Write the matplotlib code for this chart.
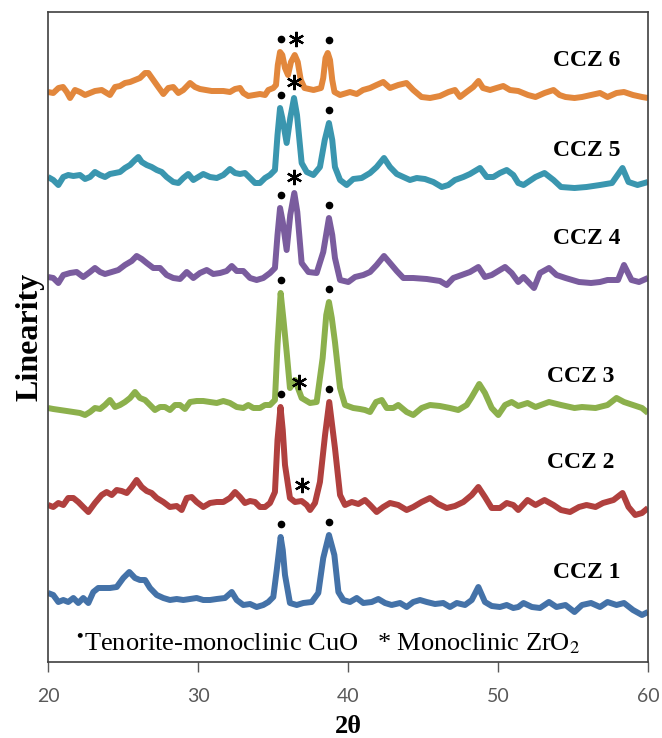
import numpy as np
import matplotlib
matplotlib.use("Agg")
import matplotlib.pyplot as plt

plt.rcParams['mathtext.fontset'] = 'stix'

# XRD patterns (2-theta in degrees, stacked intensity in arbitrary units)
tt_ccz6 = [20.0, 20.35, 20.7, 21.0, 21.25, 21.47, 21.8, 22.13, 22.47, 22.8, 23.13, 23.58, 23.91, 24.13,
           24.47, 24.8, 25.13, 25.47, 25.8, 26.13, 26.47, 26.69, 27.02, 27.35, 27.69, 28.02, 28.35, 28.69,
           29.02, 29.47, 29.8, 30.13, 30.91, 31.69, 32.13, 32.47, 32.8, 33.02, 33.35, 34.13, 34.47, 34.69,
           35.02, 35.2, 35.32, 35.47, 35.62, 35.8, 36.0, 36.2, 36.45, 36.65, 36.85, 37.1, 37.7, 38.2,
           38.35, 38.5, 38.65, 38.8, 38.95, 39.1, 39.47, 40.13, 40.58, 41.0, 41.47, 41.9, 42.35, 42.8,
           43.35, 43.9, 44.35, 44.9, 45.47, 46.13, 46.7, 47.13, 47.47, 47.9, 48.35, 48.7, 49.0, 49.47,
           49.9, 50.35, 50.8, 51.35, 52.0, 52.5, 53.1, 53.7, 54.1, 54.5, 55.1, 55.6, 56.2, 56.8, 57.3,
           57.9, 58.4, 59.0, 59.6, 60.0]
i_ccz6 = [570, 569, 574, 575, 570, 564, 572, 570, 567, 569, 571, 572, 569, 567,
          575, 576, 579, 580, 582, 584, 589, 589, 582, 575, 568, 574, 575, 569,
          572, 579, 575, 573, 571, 571, 570, 573, 574, 569, 566, 568, 567, 572,
          574, 577, 597, 610, 607, 594, 587, 600, 607, 600, 582, 574, 572, 574,
          584, 604, 609, 602, 582, 570, 567, 570, 568, 572, 574, 577, 580, 574,
          577, 579, 572, 565, 564, 566, 570, 572, 565, 570, 575, 581, 574, 572,
          574, 576, 572, 571, 567, 565, 569, 572, 567, 565, 564, 565, 567, 569, 565,
          569, 570, 567, 565, 564]

tt_ccz5 = [20.0, 20.35, 20.69, 21.02, 21.35, 21.69, 22.13, 22.47, 22.8, 23.13, 23.47, 23.8, 24.13, 24.47,
           24.8, 25.13, 25.47, 25.8, 26.02, 26.25, 26.58, 26.91, 27.25, 27.58, 27.91, 28.35, 28.69, 29.02,
           29.35, 29.69, 30.02, 30.35, 30.8, 31.25, 31.69, 32.13, 32.47, 32.8, 33.13, 33.47, 33.8, 34.13,
           34.47, 34.8, 35.13, 35.3, 35.47, 35.62, 35.91, 36.15, 36.4, 36.6, 36.91, 37.25, 37.69, 38.13,
           38.45, 38.73, 38.95, 39.13, 39.47, 39.91, 40.35, 40.91, 41.47, 41.91, 42.4, 42.8, 43.25, 43.69,
           44.13, 44.58, 45.13, 45.69, 46.25, 46.69, 47.13, 47.69, 48.13, 48.8, 49.25, 49.69, 50.13, 50.58,
           51.02, 51.35, 51.7, 52.5, 53.1, 53.7, 54.2, 55.1, 55.9, 56.8, 57.6, 58.3, 58.7, 59.3, 60.0]
i_ccz5 = [485, 482, 477, 485, 487, 486, 487, 483, 485, 490, 487, 485, 488, 489,
          490, 494, 497, 502, 505, 500, 497, 495, 492, 490, 485, 480, 479, 484,
          488, 482, 485, 488, 485, 484, 487, 493, 489, 488, 489, 484, 479, 479,
          484, 487, 492, 527, 554, 544, 519, 544, 564, 547, 499, 490, 487, 495,
          522, 539, 522, 495, 482, 477, 483, 484, 489, 495, 504, 495, 488, 485,
          482, 484, 483, 480, 475, 477, 482, 485, 488, 494, 485, 485, 489, 492,
          487, 479, 477, 485, 489, 482, 475, 474, 475, 477, 479, 494, 480, 477, 480]

tt_ccz4 = [20.0, 20.35, 20.69, 21.02, 21.47, 21.91, 22.35, 22.8, 23.13, 23.47, 23.8, 24.25, 24.69, 25.13,
           25.58, 25.91, 26.25, 26.58, 27.02, 27.47, 27.91, 28.35, 28.8, 29.25, 29.69, 30.13, 30.58, 31.02,
           31.47, 31.91, 32.25, 32.58, 33.02, 33.47, 33.91, 34.35, 34.8, 35.13, 35.3, 35.47, 35.65, 35.91,
           36.15, 36.42, 36.62, 36.91, 37.36, 37.91, 38.35, 38.73, 38.95, 39.13, 39.47, 40.02, 40.47, 41.02,
           41.47, 41.91, 42.4, 42.8, 43.25, 43.69, 44.35, 45.25, 46.13, 46.58, 47.02, 47.58, 48.13, 48.69,
           49.13, 49.58, 50.13, 50.47, 50.91, 51.35, 51.7, 52.4, 52.8, 53.4, 53.9, 54.5, 55.4, 56.2, 56.8,
           57.3, 58.0, 58.4, 58.9, 59.4, 60.0]
i_ccz4 = [385, 384, 379, 387, 389, 390, 385, 390, 394, 390, 388, 390, 392, 397,
          401, 406, 403, 399, 394, 394, 387, 384, 383, 390, 384, 389, 392, 388,
          389, 391, 396, 391, 391, 384, 382, 384, 389, 394, 427, 454, 440, 412,
          447, 469, 450, 399, 390, 389, 410, 444, 427, 404, 382, 380, 385, 387,
          390, 397, 406, 399, 391, 384, 384, 383, 381, 377, 384, 387, 390, 395,
          385, 387, 392, 395, 389, 380, 385, 374, 389, 394, 387, 384, 380, 379, 380,
          382, 382, 397, 382, 380, 384]

tt_ccz3 = [20.0, 20.35, 20.8, 21.25, 21.69, 22.13, 22.47, 22.8, 23.13, 23.47, 23.8, 24.13, 24.47, 24.8,
           25.13, 25.47, 25.8, 26.13, 26.47, 26.8, 27.13, 27.47, 27.8, 28.13, 28.47, 28.8, 29.13, 29.47,
           29.91, 30.35, 30.8, 31.25, 31.69, 32.13, 32.58, 33.02, 33.35, 33.69, 34.13, 34.47, 34.8, 35.13,
           35.3, 35.51, 35.7, 35.91, 36.13, 36.47, 36.91, 37.47, 37.91, 38.31, 38.55, 38.73, 38.92, 39.13,
           39.47, 39.8, 40.35, 40.8, 41.13, 41.47, 41.87, 42.25, 42.58, 43.02, 43.35, 43.91, 44.35, 44.91,
           45.47, 46.13, 46.8, 47.35, 47.91, 48.25, 48.75, 49.13, 49.58, 50.02, 50.47, 50.91, 51.35, 51.97,
           52.5, 53.4, 54.2, 55.1, 55.6, 56.5, 57.3, 57.9, 58.4, 59.0, 59.6, 60.0]
i_ccz3 = [254, 253, 252, 251, 250, 249, 247, 250, 254, 253, 257, 262, 255, 257,
          260, 264, 270, 264, 262, 257, 252, 255, 255, 252, 257, 257, 253, 260,
          261, 261, 260, 259, 261, 259, 255, 254, 257, 254, 254, 257, 257, 262,
          317, 369, 342, 310, 274, 282, 264, 259, 260, 304, 347, 360, 344, 320,
          274, 257, 254, 253, 252, 250, 260, 262, 254, 254, 257, 250, 247, 254,
          257, 256, 254, 252, 257, 265, 278, 269, 254, 247, 257, 260, 256, 259,
          255, 260, 257, 254, 255, 254, 257, 264, 260, 257, 254, 249]

tt_ccz2 = [20.0, 20.35, 20.69, 21.02, 21.35, 21.69, 22.02, 22.35, 22.69, 23.13, 23.58, 23.91, 24.25, 24.58,
           24.91, 25.25, 25.58, 25.91, 26.25, 26.58, 26.91, 27.25, 27.69, 28.13, 28.58, 28.91, 29.25, 29.58,
           29.91, 30.35, 30.8, 31.25, 31.69, 32.13, 32.47, 32.8, 33.13, 33.47, 33.8, 34.13, 34.47, 34.8,
           35.13, 35.3, 35.5, 35.65, 35.8, 36.13, 36.47, 36.91, 37.25, 37.47, 37.8, 38.13, 38.47, 38.75,
           39.13, 39.47, 39.8, 40.25, 40.69, 41.13, 41.47, 41.91, 42.35, 42.8, 43.35, 43.91, 44.35, 44.91,
           45.47, 46.02, 46.58, 47.13, 47.69, 48.25, 48.69, 49.13, 49.58, 50.13, 50.58, 51.02, 51.35, 51.97,
           52.5, 53.1, 53.7, 54.2, 54.8, 55.4, 55.9, 56.5, 57.0, 57.7, 58.3, 58.7, 59.15, 59.6, 60.0]
i_ccz2 = [157, 155, 159, 157, 164, 164, 160, 155, 150, 159, 167, 170, 167, 172,
          171, 169, 175, 182, 175, 171, 169, 164, 160, 155, 156, 152, 164, 165,
          160, 155, 159, 160, 160, 164, 170, 165, 159, 161, 160, 155, 155, 159,
          170, 222, 255, 232, 197, 164, 160, 161, 157, 152, 159, 180, 227, 260,
          214, 167, 157, 160, 158, 162, 157, 150, 155, 159, 157, 152, 155, 160,
          164, 158, 154, 156, 160, 167, 175, 165, 154, 154, 159, 157, 152, 162,
          157, 162, 157, 152, 150, 155, 157, 155, 159, 162, 169, 155, 147, 149, 154]

tt_ccz1 = [20.0, 20.35, 20.69, 21.02, 21.35, 21.69, 22.02, 22.35, 22.69, 23.02, 23.35, 23.69, 24.13, 24.58,
           25.02, 25.42, 25.8, 26.13, 26.47, 26.8, 27.25, 27.69, 28.13, 28.58, 29.02, 29.47, 29.91, 30.35,
           30.8, 31.25, 31.8, 32.25, 32.58, 33.02, 33.47, 33.91, 34.35, 34.69, 35.02, 35.25, 35.51, 35.65,
           35.8, 36.13, 36.58, 37.02, 37.58, 38.02, 38.35, 38.73, 39.09, 39.36, 39.69, 40.13, 40.58, 41.02,
           41.58, 42.02, 42.47, 42.91, 43.47, 43.91, 44.35, 44.8, 45.25, 45.8, 46.35, 46.8, 47.25, 47.8,
           48.25, 48.69, 49.13, 49.58, 50.13, 50.58, 51.02, 51.35, 51.7, 52.26, 52.8, 53.4, 53.9, 54.5,
           55.1, 55.6, 56.2, 56.8, 57.3, 57.9, 58.4, 59.0, 59.6, 60.0]
i_ccz1 = [69, 67, 60, 62, 60, 64, 59, 64, 59, 70, 74, 74, 74, 75,
          84, 90, 84, 82, 82, 74, 67, 64, 62, 63, 62, 63, 64, 62,
          62, 63, 64, 70, 62, 57, 58, 55, 57, 60, 65, 92, 125, 112,
          87, 59, 57, 59, 60, 69, 104, 127, 107, 70, 62, 60, 64, 59,
          60, 63, 59, 57, 59, 55, 60, 62, 60, 58, 59, 55, 59, 57,
          62, 75, 60, 56, 55, 57, 54, 55, 59, 55, 54, 60, 55, 57,
          50, 57, 59, 55, 60, 57, 59, 52, 47, 50]

samples = ['CCZ 1', 'CCZ 2', 'CCZ 3', 'CCZ 4', 'CCZ 5', 'CCZ 6']
thetas = [tt_ccz1, tt_ccz2, tt_ccz3, tt_ccz4, tt_ccz5, tt_ccz6]
intens = [i_ccz1, i_ccz2, i_ccz3, i_ccz4, i_ccz5, i_ccz6]
colors = ['#4472A8', '#B0403E', '#8CB04C', '#7A5C9E', '#3A96AF', '#E2873C']

# sample name label positions (2-theta, intensity)
label_x = [55.9, 55.5, 55.5, 55.9, 55.9, 55.9]
label_y = [89, 200, 285, 424, 511, 601]

# reflections marked on each pattern
cuo_peaks = [35.5, 38.7]
zro2_peaks = [None, 36.9, 36.75, 36.42, 36.4, 36.5]

fig = plt.figure(figsize=(6.62, 7.38), dpi=100)
ax = fig.add_axes([48 / 662, 76 / 738, 600 / 662, 650 / 738])

for tt, ii, c in zip(thetas, intens, colors):
    ax.plot(tt, ii, color=c, lw=4.3, solid_joinstyle='round', solid_capstyle='butt', zorder=2)


def local_max(tt, ii, x0, w=0.2):
    tt = np.asarray(tt)
    ii = np.asarray(ii)
    m = (tt >= x0 - w) & (tt <= x0 + w)
    return ii[m].max() if m.any() else np.interp(x0, tt, ii)


for tt, ii, zp in zip(thetas, intens, zro2_peaks):
    for p in cuo_peaks:
        ax.plot(p, local_max(tt, ii, p) + 13, 'o', color='black', ms=4.5, zorder=4)
    if zp is not None:
        ax.plot(zp, local_max(tt, ii, zp) + 16, marker=(6, 2, 0), color='black',
                ms=11, mew=1.6, zorder=4)

for name, lx, ly in zip(samples, label_x, label_y):
    ax.text(lx, ly, name, ha='center', va='center', fontsize=17, fontweight='bold',
            family='Liberation Serif')

ax.text(21.9, 12, r'$^{\bullet}$Tenorite-monoclinic CuO   * Monoclinic ZrO$_2$',
        fontsize=19, family='Liberation Serif', ha='left', va='baseline')

ax.set_xlim(20, 60)
ax.set_ylim(0, 650)
ax.set_xticks([20, 30, 40, 50, 60])
ax.set_yticks([])
ax.tick_params(axis='x', direction='out', length=7, width=1, color='#595959',
               labelcolor='#595959', labelsize=14, pad=12)
for lab in ax.get_xticklabels():
    lab.set_family('Lato')
for sp in ax.spines.values():
    sp.set_color('#404040')
    sp.set_linewidth(1.2)

ax.set_xlabel('2θ', family='Liberation Serif', fontweight='bold', fontsize=19)
ax.xaxis.label.set_va('baseline')
ax.xaxis.set_label_coords(0.5, -0.109)
ax.set_ylabel('Linearity', family='Liberation Serif', fontweight='bold', fontsize=23)
ax.yaxis.label.set_va('center')
ax.yaxis.set_label_coords(-0.03, 0.5)

fig.savefig('out.png', dpi=100, facecolor='white')
